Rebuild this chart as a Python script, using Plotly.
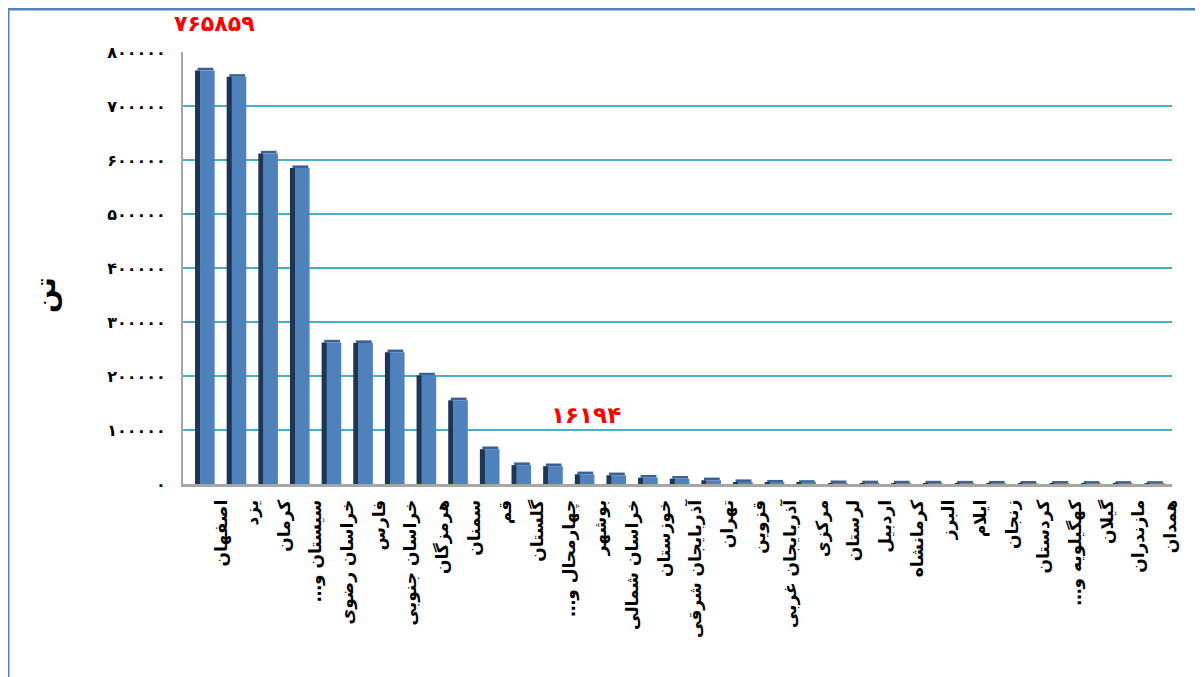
import plotly.graph_objects as go

provinces = ["اصفهان", "یزد", "کرمان", "سیستان و…\u200f", "خراسان رضوی", "فارس", "خراسان جنوبی",
             "هرمزگان", "سمنان", "قم", "گلستان", "چهارمحال و…\u200f", "بوشهر", "خراسان شمالی",
             "خوزستان", "آذربایجان شرقی", "تهران", "قزوین", "آذربایجان غربی", "مرکزی", "لرستان",
             "اردبیل", "کرمانشاه", "البرز", "ایلام", "زنجان", "کردستان", "کهگیلویه و…\u200f",
             "گیلان", "مازندران", "همدان"]
tons = [765859, 754000, 612000, 585000, 262000, 261000, 244000,
        201000, 155000, 64500, 35000, 33000, 18000, 16194,
        11800, 9900, 6900, 3500, 2500, 2000, 1500,
        1200, 1000, 900, 800, 700, 600, 500,
        400, 300, 200]
ytick_vals = [0, 100000, 200000, 300000, 400000, 500000, 600000, 700000, 800000]
ytick_text = ["۰", "۱۰۰۰۰۰", "۲۰۰۰۰۰", "۳۰۰۰۰۰", "۴۰۰۰۰۰", "۵۰۰۰۰۰", "۶۰۰۰۰۰", "۷۰۰۰۰۰", "۸۰۰۰۰۰"]
max_label = "۷۶۵۸۵۹"
mid_label = "۱۶۱۹۴"
y_title = "تن"

OFF = 8  # page body margin
W, H = 1203 - OFF, 677 - OFF
# plot area in screen pixels: left 183, right 1172, top 52, bottom 484
L, T = 183 - OFF, 52 - OFF
R, B = W - (1172 - OFF), H - (484 - OFF)
pw, ph = W - L - R, H - T - B

def px(x):
    return (x - OFF - L) / pw

def py(y):
    return (H - B - (y - OFF)) / ph

FONT = "DejaVu Sans"
CAP = 5000  # visual thickness of the 3D top face

fig = go.Figure()
# top face (3D look)
fig.add_trace(go.Bar(x=provinces, y=[CAP] * len(tons), base=tons, width=0.5, offset=-0.74,
                     marker=dict(color="#3A6393", line=dict(width=0)),
                     hoverinfo="skip", showlegend=False))
# dark side face (3D look)
fig.add_trace(go.Bar(x=provinces, y=tons, width=0.17, offset=-0.82,
                     marker=dict(color="#1F3554", line=dict(width=0)),
                     hoverinfo="skip", showlegend=False))
# front face
fig.add_trace(go.Bar(x=provinces, y=tons, width=0.46, offset=-0.66,
                     marker=dict(color="#4F81BD", line=dict(width=0)),
                     showlegend=False))

fig.update_layout(
    width=W, height=H,
    margin=dict(l=L, r=R, t=T, b=B),
    paper_bgcolor="white", plot_bgcolor="white",
    barmode="overlay",
    font=dict(family=FONT, color="black"),
    xaxis=dict(type="category", range=[-1.2, 30.05], tickangle=-90,
               tickvals=provinces, ticktext=["<b>%s</b>" % p for p in provinces],
               tickfont=dict(family=FONT, size=17, color="black"),
               showgrid=False, showline=True, linecolor="#A6A6A6", linewidth=3,
               ticks="", ticklabelstandoff=6, fixedrange=True),
    yaxis=dict(range=[0, 800000], tickvals=ytick_vals,
               ticktext=["<b>%s</b>" % t for t in ytick_text],
               tickfont=dict(family=FONT, size=16, color="black"),
               showgrid=True, gridcolor="#4BACC6", gridwidth=2,
               zeroline=False, showline=True, linecolor="#A6A6A6", linewidth=2,
               ticks="", ticklabelstandoff=12, fixedrange=True),
    annotations=[
        dict(text="<b>%s</b>" % max_label, xref="paper", yref="paper",
             x=px(214), y=py(24), xanchor="center", yanchor="middle", showarrow=False,
             font=dict(family=FONT, size=22, color="#FF0000")),
        dict(text="<b>%s</b>" % mid_label, xref="paper", yref="paper",
             x=px(586), y=py(415), xanchor="center", yanchor="middle", showarrow=False,
             font=dict(family=FONT, size=23, color="#FF0000")),
        dict(text="<b>%s</b>" % y_title, xref="paper", yref="paper",
             x=px(45), y=py(295), xanchor="center", yanchor="middle", showarrow=False,
             textangle=-90,
             font=dict(family=FONT, size=28, color="black")),
    ],
    shapes=[
        dict(type="rect", xref="paper", yref="paper",
             x0=px(7), x1=px(1400), y0=py(900), y1=py(8),
             line=dict(color="#4F81BD", width=5), layer="above"),
    ],
)

fig.write_html("out.html")
